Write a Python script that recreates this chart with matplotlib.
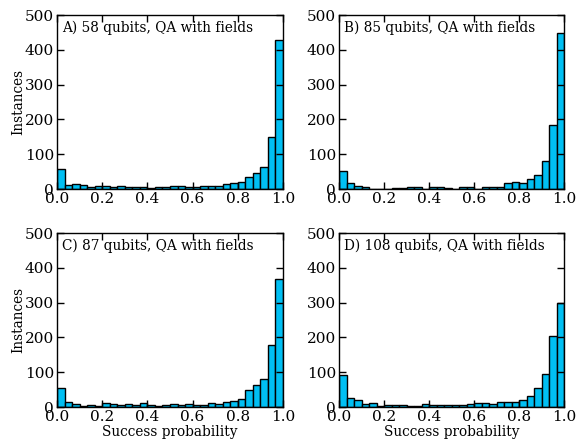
import numpy as np
import matplotlib
matplotlib.use("Agg")
import matplotlib.pyplot as plt

plt.rcParams['font.family'] = ['DejaVu Serif']
plt.rcParams['xtick.direction'] = 'in'
plt.rcParams['ytick.direction'] = 'in'

bin_edges = np.linspace(0.0, 1.0, 31)

counts_a = [57, 11, 14, 12, 6, 9, 8, 7, 8, 7, 7, 7, 4, 5, 5, 10, 8, 6, 6, 10,
            8, 8, 14, 17, 20, 35, 45, 62, 150, 428]
counts_b = [52, 16, 9, 5, 1, 1, 1, 2, 2, 5, 7, 1, 5, 7, 4, 1, 7, 5, 1, 5,
            7, 7, 16, 19, 18, 28, 40, 80, 184, 447]
counts_c = [56, 13, 8, 2, 5, 3, 11, 8, 6, 8, 5, 11, 7, 2, 5, 8, 5, 8, 7, 7,
            11, 9, 15, 16, 23, 49, 63, 80, 177, 368]
counts_d = [93, 26, 20, 9, 11, 3, 6, 5, 5, 2, 2, 8, 5, 5, 5, 5, 6, 9, 11, 11,
            9, 13, 15, 13, 19, 32, 56, 94, 205, 298]

labels = ["A) 58 qubits, QA with fields", "B) 85 qubits, QA with fields",
          "C) 87 qubits, QA with fields", "D) 108 qubits, QA with fields"]

xticks = [0.0, 0.2, 0.4, 0.6, 0.8, 1.0]
yticks = [0, 100, 200, 300, 400, 500]

fig = plt.figure(figsize=(5.78, 4.40), dpi=100)
W, H = 578.0, 440.0
boxes = [(57, 283, 15, 189), (339, 564, 15, 189),
         (57, 283, 233, 407), (339, 564, 233, 407)]

all_counts = [counts_a, counts_b, counts_c, counts_d]
for i, (cnt, lab, (l, r, t, b)) in enumerate(zip(all_counts, labels, boxes)):
    ax = fig.add_axes([l / W, 1 - b / H, (r - l) / W, (b - t) / H])
    widths = np.diff(bin_edges)
    ax.bar(bin_edges[:-1], cnt, width=widths, align='edge',
           color='#00BFF3', edgecolor='black', linewidth=1.0)
    ax.set_xlim(0, 1)
    ax.set_ylim(0, 500)
    ax.set_xticks(xticks)
    ax.set_xticklabels([f"{v:.1f}" for v in xticks])
    ax.set_yticks(yticks)
    ax.tick_params(axis='both', which='both', top=True, right=True,
                   labelsize=11, length=5, width=1, pad=2)
    for s in ax.spines.values():
        s.set_linewidth(1.0)
    ax.text(0.022, 0.965, lab, transform=ax.transAxes, ha='left', va='top',
            fontsize=9.8)
    if i % 2 == 0:
        ax.set_ylabel("Instances", fontsize=9.8, labelpad=0)
    if i >= 2:
        ax.set_xlabel("Success probability", fontsize=9.8, labelpad=1)

fig.savefig("out.png", dpi=100)
